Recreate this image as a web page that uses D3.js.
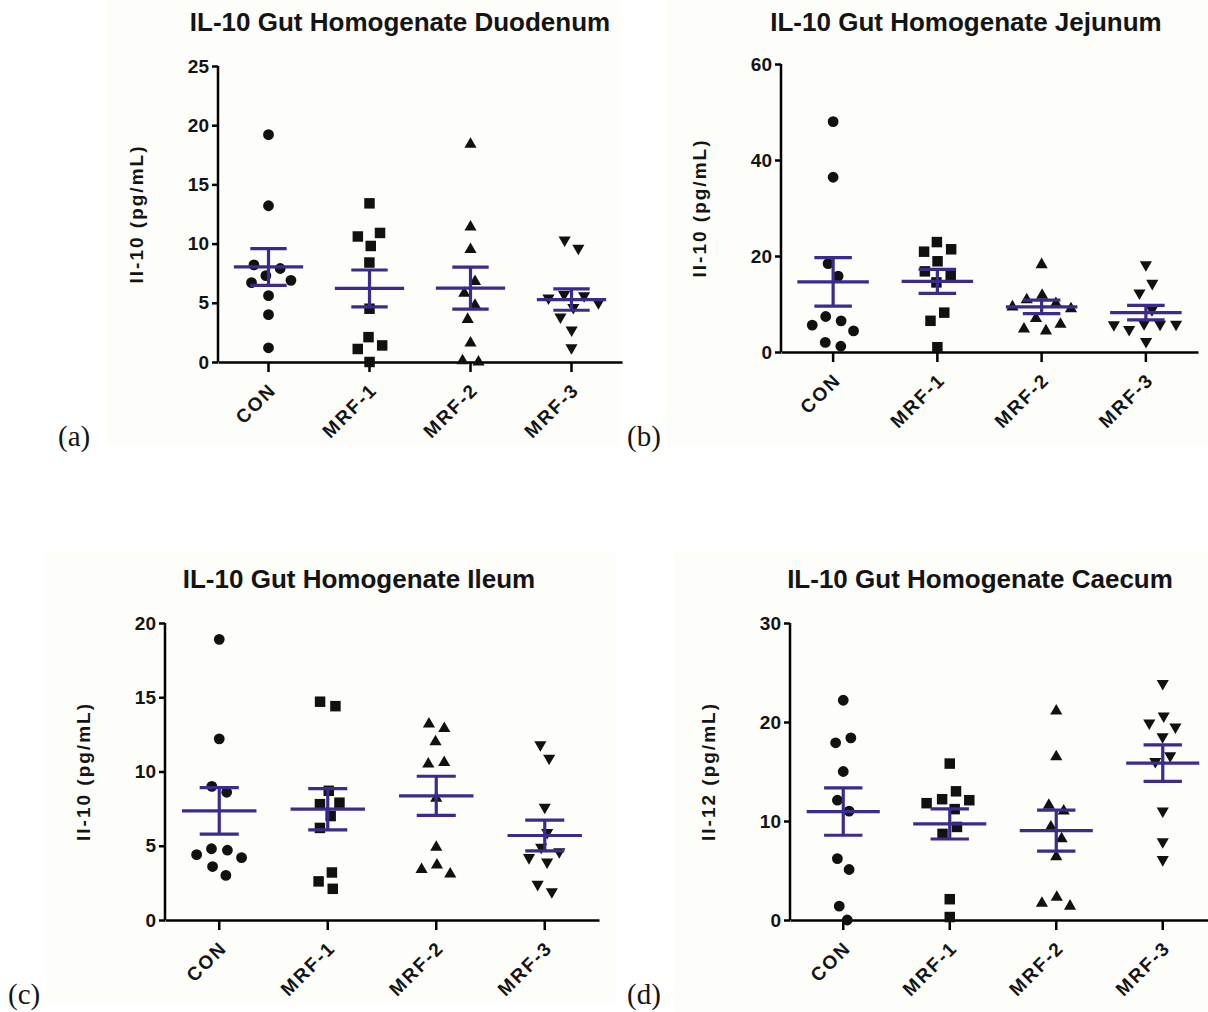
<!DOCTYPE html>
<html>
<head>
<meta charset="utf-8">
<script src="https://cdn.jsdelivr.net/npm/d3@7"></script>
<style>
  body { margin: 0; background: #fff; }
  svg text { font-family: "Liberation Sans", Arial, sans-serif; font-weight: bold; fill: #141414; }
  svg text.letter { font-family: "Liberation Serif", "Times New Roman", serif; font-weight: normal; }
</style>
</head>
<body>
<div id="chart"></div>
<script>
var categories = ["CON", "MRF-1", "MRF-2", "MRF-3"]
var titles = ["IL-10 Gut Homogenate Duodenum", "IL-10 Gut Homogenate Jejunum",
  "IL-10 Gut Homogenate Ileum", "IL-10 Gut Homogenate Caecum"]
var yLabels = ["Il-10 (pg/mL)", "Il-10 (pg/mL)", "Il-10 (pg/mL)", "Il-12 (pg/mL)"]
var letters = ["(a)", "(b)", "(c)", "(d)"]
var yMax = [25, 60, 20, 30]
var yStep = [5, 20, 5, 10]

// individual values per group
var duodenum = [
  [19.2, 13.2, 8.2, 7.9, 7.3, 6.9, 6.7, 5.6, 4.0, 1.2],
  [13.4, 10.9, 10.6, 9.8, 8.4, 4.5, 2.1, 1.4, 1.1, 0.0],
  [18.4, 11.4, 9.5, 6.8, 5.8, 4.8, 3.6, 1.6, 0.1, 0.0],
  [10.3, 9.6, 5.7, 5.6, 5.4, 5.0, 4.6, 3.8, 2.7, 1.2]
]
var jejunum = [
  [48.0, 36.4, 18.4, 15.8, 7.4, 6.5, 5.6, 4.4, 2.0, 1.2],
  [22.9, 21.4, 20.9, 18.9, 16.8, 16.0, 14.5, 8.2, 6.5, 1.0],
  [18.2, 11.8, 10.9, 10.1, 9.4, 9.0, 7.0, 5.8, 4.8, 4.4],
  [18.2, 14.3, 12.3, 8.8, 5.9, 5.8, 5.7, 5.8, 4.7, 2.2]
]
var ileum = [
  [18.9, 12.2, 9.0, 8.6, 4.8, 4.7, 4.4, 4.2, 3.6, 3.0],
  [14.7, 14.4, 8.7, 7.9, 7.8, 7.0, 6.2, 3.2, 2.6, 2.1],
  [13.2, 12.9, 12.0, 10.6, 10.5, 8.2, 4.9, 3.7, 3.4, 3.1],
  [11.8, 10.9, 7.6, 5.9, 4.9, 4.6, 4.2, 3.9, 2.4, 1.9]
]
var caecum = [
  [22.2, 18.4, 17.9, 15.0, 12.1, 11.0, 6.2, 5.1, 1.4, 0.0],
  [15.8, 13.0, 12.2, 12.1, 11.8, 11.2, 9.4, 8.7, 2.1, 0.3],
  [21.1, 16.5, 11.6, 11.0, 9.4, 8.2, 6.4, 2.3, 1.7, 1.4],
  [23.9, 20.6, 19.9, 19.5, 18.5, 16.6, 16.0, 11.0, 7.9, 6.1]
]

// mean and SEM as drawn
var duodenumMean = [8.03, 6.21, 6.24, 5.27]
var duodenumSem = [1.55, 1.56, 1.78, 0.90]
var jejunumMean = [14.6, 14.7, 9.4, 8.2]
var jejunumSem = [5.05, 2.5, 1.4, 1.5]
var ileumMean = [7.35, 7.46, 8.36, 5.69]
var ileumSem = [1.57, 1.39, 1.32, 1.04]
var caecumMean = [10.95, 9.7, 9.03, 15.84]
var caecumSem = [2.39, 1.52, 2.07, 1.84]

var values = [duodenum, jejunum, ileum, caecum]
var means = [duodenumMean, jejunumMean, ileumMean, caecumMean]
var sems = [duodenumSem, jejunumSem, ileumSem, caecumSem]

// layout of the four panels
var boxes = [
  {bg: [106, 0, 514, 446], x0: 218, x1: 622, top: 66, bot: 362, tx: 400, ty: 31, lx: 58, ly: 446},
  {bg: [666, 0, 542, 446], x0: 781, x1: 1198, top: 64, bot: 352, tx: 966, ty: 31, lx: 627, ly: 446},
  {bg: [45, 552, 570, 450], x0: 165, x1: 599, top: 623, bot: 920, tx: 359, ty: 588, lx: 8, ly: 1004},
  {bg: [674, 552, 534, 460], x0: 790, x1: 1216, top: 623, bot: 920, tx: 980, ty: 588, lx: 627, ly: 1004}
]

var shapes = [d3.symbolCircle, d3.symbolSquare, d3.symbolTriangle, d3.symbolTriangle]
var sizes = [92, 110, 64, 64]
var purple = "#3c2a8c"

var svg = d3.select("#chart").append("svg")
  .attr("width", 1208)
  .attr("height", 1012)

function swarm(vals, cx, y) {
  var nodes = vals.map((v, i) => ({x: cx + (i % 2 ? 0.01 : -0.01) * (i + 1), y: y(v), fy: y(v)}))
  var sim = d3.forceSimulation(nodes)
    .force("x", d3.forceX(cx).strength(0.06))
    .force("collide", d3.forceCollide(8))
    .stop()
  sim.tick(300)
  return nodes
}

boxes.forEach((b, p) => {
  var g = svg.append("g")

  g.append("rect")
    .attr("x", b.bg[0]).attr("y", b.bg[1])
    .attr("width", b.bg[2]).attr("height", b.bg[3])
    .attr("fill", "#fdfdf9")

  var x = d3.scaleBand().domain(categories).range([b.x0, b.x1])
  var y = d3.scaleLinear().domain([0, yMax[p]]).range([b.bot, b.top])

  var yAxis = g.append("g")
    .attr("transform", "translate(" + b.x0 + ",0)")
    .call(d3.axisLeft(y).tickValues(d3.range(0, yMax[p] + 1, yStep[p])).tickSize(6).tickPadding(3))
  yAxis.select(".domain").attr("stroke-width", 2.5).attr("d", "M0," + b.bot + "V" + b.top)
  yAxis.selectAll(".tick line").attr("stroke-width", 2.5)
  yAxis.selectAll(".tick text").style("font-size", "19px").attr("fill", "#141414")

  var xAxis = g.append("g")
    .attr("transform", "translate(0," + b.bot + ")")
    .call(d3.axisBottom(x).tickSize(10).tickSizeOuter(0))
  xAxis.select(".domain").attr("stroke-width", 2.5)
  xAxis.selectAll(".tick line").attr("stroke-width", 2.5)
  xAxis.selectAll(".tick text")
    .attr("text-anchor", "end")
    .attr("dy", 0)
    .attr("y", 0)
    .attr("transform", "translate(9,29) rotate(-45)")
    .style("font-size", "19px")
    .style("letter-spacing", "2px")
    .attr("fill", "#141414")

  // points
  categories.forEach((c, k) => {
    var cx = x(c) + x.bandwidth() / 2
    var nodes = swarm(values[p][k], cx, y)
    g.append("g").selectAll("path")
      .data(nodes)
      .enter().append("path")
      .attr("d", d3.symbol().type(shapes[k]).size(sizes[k]))
      .attr("transform", d => "translate(" + d.x + "," + d.y + ")" + (k == 3 ? " rotate(180)" : ""))
      .attr("fill", "#111")
  })

  // mean and SEM
  var bw = x.step()
  var sg = g.append("g").attr("stroke", purple).attr("stroke-width", 3.2).attr("fill", "none")
  categories.forEach((c, k) => {
    var cx = x(c) + x.bandwidth() / 2
    var m = means[p][k], s = sems[p][k]
    sg.append("line")
      .attr("x1", cx - 0.343 * bw).attr("x2", cx + 0.343 * bw)
      .attr("y1", y(m)).attr("y2", y(m))
    sg.append("line")
      .attr("x1", cx - 0.18 * bw).attr("x2", cx + 0.18 * bw)
      .attr("y1", y(m + s)).attr("y2", y(m + s))
    sg.append("line")
      .attr("x1", cx - 0.18 * bw).attr("x2", cx + 0.18 * bw)
      .attr("y1", y(m - s)).attr("y2", y(m - s))
    sg.append("line")
      .attr("x1", cx).attr("x2", cx)
      .attr("y1", y(m + s)).attr("y2", y(m - s))
  })

  g.append("text")
    .attr("x", b.tx).attr("y", b.ty)
    .attr("text-anchor", "middle")
    .style("font-size", "26px")
    .text(titles[p])

  g.append("text")
    .attr("transform", "translate(" + (b.x0 - 82) + "," + ((b.top + b.bot) / 2) + ") rotate(-90)")
    .attr("text-anchor", "middle")
    .attr("dy", "0.35em")
    .style("font-size", "19px")
    .style("letter-spacing", "2px")
    .text(yLabels[p])

  g.append("text")
    .attr("class", "letter")
    .attr("x", b.lx).attr("y", b.ly)
    .style("font-size", "29px")
    .text(letters[p])
})
</script>
</body>
</html>
